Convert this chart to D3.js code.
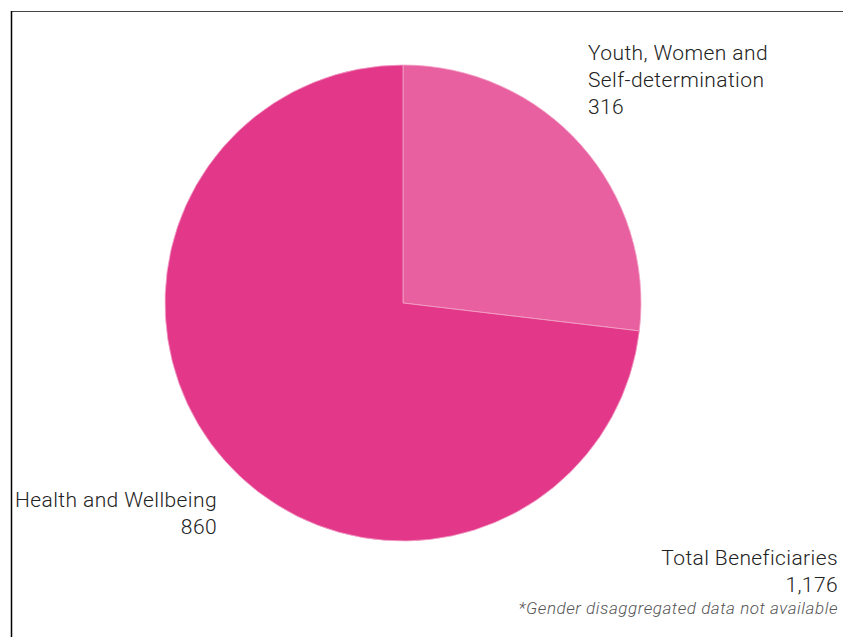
<!DOCTYPE html>
<html>
<head>
<meta charset="utf-8">
<script src="https://cdn.jsdelivr.net/npm/d3@7"></script>
<style>
  html, body { margin: 0; padding: 0; background: #fff; }
  svg { display: block; }
  text { font-family: Roboto, "Noto Sans", sans-serif; font-weight: 300; fill: #222; }
</style>
</head>
<body>
<svg id="chart" width="843" height="637"></svg>
<script>
// data
const categories = ['Youth, Women and Self-determination', 'Health and Wellbeing'];
const values = [316, 860];
const colours = ['#e8609f', '#e3388a'];
const totalLabel = 'Total Beneficiaries';
const footnote = '*Gender disaggregated data not available';

const svg = d3.select('#chart');
const width = 843, height = 637;

// frame
svg.append('line').attr('x1', 11).attr('x2', width).attr('y1', 11.5).attr('y2', 11.5)
    .attr('stroke', '#444').attr('stroke-width', 1.2);
svg.append('line').attr('x1', 11.5).attr('x2', 11.5).attr('y1', 11).attr('y2', height)
    .attr('stroke', '#000').attr('stroke-width', 1.5);

const cx = 403, cy = 303, radius = 238;

const pie = d3.pie().sort(null).value((d) => d.value);
const arc = d3.arc().innerRadius(0).outerRadius(radius);

const slices = categories.map((c, i) => ({ name: c, value: values[i], colour: colours[i] }));

const g = svg.append('g').attr('transform', `translate(${cx},${cy})`);
g.selectAll('path')
    .data(pie(slices))
    .join('path')
    .attr('d', arc)
    .attr('fill', (d) => d.data.colour)
    .attr('stroke', '#f3a3c8')
    .attr('stroke-width', 0.8);

const fontSize = 21, lineH = 27;

function label(lines, x, y, anchor) {
    const t = svg.append('text')
        .attr('x', x).attr('y', y)
        .attr('text-anchor', anchor)
        .style('font-size', fontSize + 'px')
        .style('letter-spacing', '0.4px');
    lines.forEach((l, i) => {
        t.append('tspan').attr('x', x).attr('dy', i === 0 ? 0 : lineH).text(l);
    });
    return t;
}

const fmt = d3.format(',');

// Youth label
label(['Youth, Women and', 'Self-determination', fmt(values[0])], 588, 60, 'start');

// Health label
label(['Health and Wellbeing'], 217, 507, 'end');
label([fmt(values[1])], 217, 534, 'end');

// total
const total = d3.sum(values);
label([totalLabel, fmt(total)], 838, 565, 'end');

svg.append('text')
    .attr('x', 838).attr('y', 614)
    .attr('text-anchor', 'end')
    .style('font-size', '17px')
    .style('font-style', 'italic')
    .style('letter-spacing', '0.55px')
    .style('fill', '#555')
    .text(footnote);
</script>
</body>
</html>
